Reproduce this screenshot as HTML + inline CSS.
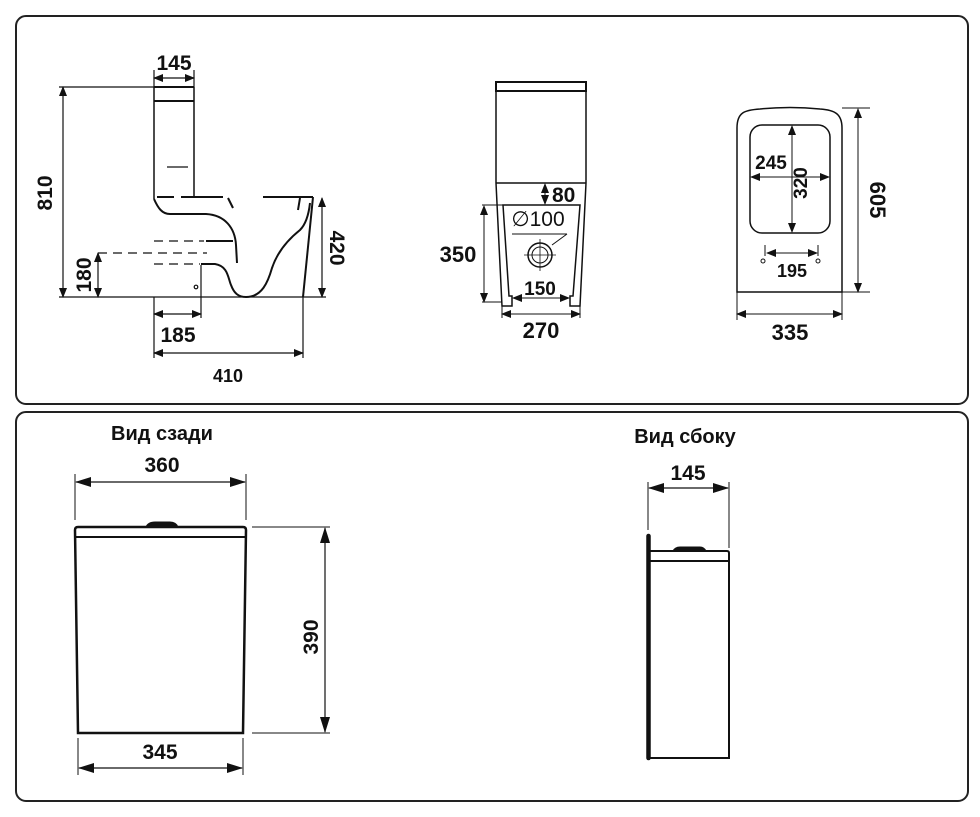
<!DOCTYPE html>
<html><head><meta charset="utf-8"><style>
html,body{margin:0;padding:0;background:#fff}
svg{display:block}
text{font-family:"Liberation Sans",sans-serif;font-weight:bold;fill:#111}
</style></head><body>
<svg width="980" height="817" viewBox="0 0 980 817" xmlns="http://www.w3.org/2000/svg">
<defs>
<marker id="a" markerWidth="10" markerHeight="8" refX="9" refY="4" orient="auto-start-reverse" markerUnits="userSpaceOnUse"><path d="M0,0 L10,4 L0,8 z" fill="#111"/></marker>
<marker id="b" markerWidth="16" markerHeight="10" refX="15" refY="5" orient="auto-start-reverse" markerUnits="userSpaceOnUse"><path d="M0,0 L16,5 L0,10 z" fill="#111"/></marker>
</defs>
<rect x="16" y="16" width="952" height="388" rx="10" fill="none" stroke="#222" stroke-width="2"/>
<rect x="16" y="412" width="952" height="389" rx="10" fill="none" stroke="#222" stroke-width="2"/>

<!-- TOP LEFT side view -->
<g stroke="#111" fill="none" stroke-width="1.2">
<line x1="154" y1="87" x2="194" y2="87" stroke-width="2"/>
<line x1="154" y1="101" x2="194" y2="101" stroke-width="2"/>
<line x1="154" y1="87" x2="154" y2="199" stroke-width="1.5"/>
<line x1="194" y1="87" x2="194" y2="197" stroke-width="1.5"/>
<line x1="167" y1="167" x2="188" y2="167"/>
<line x1="59" y1="87" x2="154" y2="87"/>
<line x1="63" y1="87" x2="63" y2="297" marker-start="url(#a)" marker-end="url(#a)"/>
<line x1="154" y1="78" x2="194" y2="78" marker-start="url(#a)" marker-end="url(#a)"/>
<line x1="154" y1="70" x2="154" y2="87"/><line x1="194" y1="70" x2="194" y2="87"/>
<line x1="59" y1="297" x2="326" y2="297"/>
<line x1="322" y1="198" x2="322" y2="297" marker-start="url(#a)" marker-end="url(#a)"/>
<line x1="98" y1="253" x2="98" y2="297" marker-start="url(#a)" marker-end="url(#a)"/>
<line x1="98" y1="253" x2="207" y2="253" stroke-dasharray="9,6"/>
<line x1="154" y1="241" x2="204" y2="241" stroke-dasharray="9,6"/>
<line x1="154" y1="264" x2="200" y2="264" stroke-dasharray="9,6"/>
<line x1="154" y1="297" x2="154" y2="358"/>
<line x1="303" y1="297" x2="303" y2="358"/>
<line x1="201" y1="265" x2="201" y2="318"/>
<line x1="154" y1="314" x2="201" y2="314" marker-start="url(#a)" marker-end="url(#a)"/>
<line x1="154" y1="353" x2="303" y2="353" marker-start="url(#a)" marker-end="url(#a)"/>
<g stroke-width="2">
<line x1="157" y1="197" x2="174" y2="197"/><line x1="181" y1="197" x2="223" y2="197"/>
<line x1="228" y1="198" x2="233" y2="208"/>
<path d="M154,199 C158,208 162,214 170,214 L206,214 C225,215 235,228 236,245 L237,263"/>
<line x1="206" y1="241" x2="233" y2="241"/>
<path d="M201,264 L215,264 C228,266 228,278 231,285 C234,293 238,297 246,297 C262,297 268,282 272,268 C278,250 290,238 300,230 C307,223 309,212 310,203"/>
<line x1="313" y1="197" x2="303" y2="297"/>
<line x1="263" y1="197" x2="313" y2="197"/>
<line x1="300" y1="198" x2="298" y2="210"/>
</g>
<circle cx="196" cy="287" r="1.8"/>
</g>
<text x="174" y="70" font-size="21" text-anchor="middle">145</text>
<text transform="translate(52,193) rotate(-90)" font-size="21" text-anchor="middle">810</text>
<text transform="translate(91,275) rotate(-90)" font-size="21" text-anchor="middle">180</text>
<text transform="translate(330,248) rotate(90)" font-size="21" text-anchor="middle">420</text>
<text x="178" y="342" font-size="21" text-anchor="middle">185</text>
<text x="228" y="382" font-size="18" text-anchor="middle">410</text>

<!-- TOP MIDDLE front view -->
<g stroke="#111" fill="none" stroke-width="1.5">
<rect x="496" y="82" width="90" height="9" stroke-width="2"/>
<line x1="496" y1="91" x2="496" y2="183"/><line x1="586" y1="91" x2="586" y2="183"/>
<line x1="496" y1="183" x2="586" y2="183"/>
<path d="M496,183 L502,306 L512,306 L512,296 L509,296 L503,205 L580,205 L573,296 L570,296 L570,306 L580,306 L586,183"/>
<line x1="482" y1="205" x2="503" y2="205" stroke-width="1"/>
<line x1="482" y1="302" x2="502" y2="302" stroke-width="1"/>
<line x1="484" y1="206" x2="484" y2="302" stroke-width="1" marker-start="url(#a)" marker-end="url(#a)"/>
<line x1="545" y1="184" x2="545" y2="204" stroke-width="1" marker-start="url(#a)" marker-end="url(#a)"/>
<line x1="513" y1="298" x2="569" y2="298" stroke-width="1" marker-start="url(#a)" marker-end="url(#a)"/>
<line x1="502" y1="306" x2="502" y2="318" stroke-width="1"/><line x1="580" y1="306" x2="580" y2="318" stroke-width="1"/>
<line x1="502" y1="314" x2="580" y2="314" stroke-width="1" marker-start="url(#a)" marker-end="url(#a)"/>
<line x1="512" y1="234" x2="567" y2="234" stroke-width="1"/>
<line x1="567" y1="234" x2="552" y2="245" stroke-width="1"/>
<circle cx="540" cy="255" r="12"/><circle cx="540" cy="255" r="8" stroke-width="1"/>
<line x1="524" y1="255" x2="556" y2="255" stroke-width="0.8"/><line x1="540" y1="239" x2="540" y2="271" stroke-width="0.8"/>
</g>
<text x="552" y="202" font-size="21">80</text>
<text x="538" y="226" font-size="21" text-anchor="middle" style="font-weight:normal">∅100</text>
<text x="458" y="262" font-size="22" text-anchor="middle">350</text>
<text x="540" y="295" font-size="19" text-anchor="middle">150</text>
<text x="541" y="338" font-size="22" text-anchor="middle">270</text>

<!-- TOP RIGHT seat -->
<g stroke="#111" fill="none" stroke-width="1.5">
<path d="M737,292 L737,128 C737,112 745,110 760,109 Q790,106 820,109 C835,110 842,114 842,128 L842,292 Z"/>
<rect x="750" y="125" width="80" height="108" rx="12"/>
<g stroke-width="1">
<line x1="792" y1="126" x2="792" y2="232" marker-start="url(#a)" marker-end="url(#a)"/>
<line x1="751" y1="177" x2="829" y2="177" marker-start="url(#a)" marker-end="url(#a)"/>
<line x1="767" y1="253" x2="817" y2="253" marker-start="url(#a)" marker-end="url(#a)"/>
<line x1="765" y1="245" x2="765" y2="256"/><line x1="818" y1="245" x2="818" y2="256"/>
<circle cx="763" cy="261" r="2"/><circle cx="818" cy="261" r="2"/>
<line x1="842" y1="108" x2="870" y2="108"/><line x1="842" y1="292" x2="870" y2="292"/>
<line x1="858" y1="109" x2="858" y2="292" marker-start="url(#a)" marker-end="url(#a)"/>
<line x1="737" y1="292" x2="737" y2="320"/><line x1="842" y1="292" x2="842" y2="320"/>
<line x1="737" y1="314" x2="842" y2="314" marker-start="url(#a)" marker-end="url(#a)"/>
</g>
</g>
<text x="771" y="169" font-size="19" text-anchor="middle">245</text>
<text transform="translate(807,183) rotate(-90)" font-size="19" text-anchor="middle">320</text>
<text x="792" y="277" font-size="18" text-anchor="middle">195</text>
<text transform="translate(870,200) rotate(90)" font-size="22" text-anchor="middle">605</text>
<text x="790" y="340" font-size="22" text-anchor="middle">335</text>

<!-- BOTTOM LEFT back view -->
<text x="162" y="440" font-size="20" text-anchor="middle">Вид сзади</text>
<g stroke="#111" fill="none">
<line x1="75" y1="474" x2="75" y2="520" stroke-width="1"/><line x1="246" y1="474" x2="246" y2="520" stroke-width="1"/>
<line x1="76" y1="482" x2="245" y2="482" stroke-width="1.2" marker-start="url(#b)" marker-end="url(#b)"/>
<path d="M78,733 L75,530 Q75,527 78,527 L243,527 Q246,527 246,530 L243,733 Z" stroke-width="2.5"/>
<line x1="76" y1="537" x2="245" y2="537" stroke-width="2"/>
<path d="M146,527 Q148,522 155,522 L170,522 Q176,522 178,527 Z" fill="#111"/>
<line x1="252" y1="527" x2="330" y2="527" stroke-width="1"/><line x1="252" y1="733" x2="330" y2="733" stroke-width="1"/>
<line x1="325" y1="528" x2="325" y2="732" stroke-width="1.2" marker-start="url(#b)" marker-end="url(#b)"/>
<line x1="78" y1="738" x2="78" y2="775" stroke-width="1"/><line x1="243" y1="738" x2="243" y2="775" stroke-width="1"/>
<line x1="79" y1="768" x2="242" y2="768" stroke-width="1.2" marker-start="url(#b)" marker-end="url(#b)"/>
</g>
<text x="162" y="472" font-size="21" text-anchor="middle">360</text>
<text transform="translate(318,637) rotate(-90)" font-size="21" text-anchor="middle">390</text>
<text x="160" y="759" font-size="21" text-anchor="middle">345</text>

<!-- BOTTOM RIGHT side view -->
<text x="685" y="443" font-size="20" text-anchor="middle">Вид сбоку</text>
<g stroke="#111" fill="none">
<line x1="648" y1="482" x2="648" y2="530" stroke-width="1"/><line x1="729" y1="482" x2="729" y2="548" stroke-width="1"/>
<line x1="649" y1="488" x2="728" y2="488" stroke-width="1.2" marker-start="url(#b)" marker-end="url(#b)"/>
<line x1="648.5" y1="536" x2="648.5" y2="758" stroke-width="4.5" stroke-linecap="round"/>
<path d="M650,551 L727,551 Q729,551 729,553 L729,758 L650,758" stroke-width="2"/>
<line x1="650" y1="561" x2="729" y2="561" stroke-width="2"/>
<path d="M673,551 Q675,547 680,547 L700,547 Q704,547 706,551 Z" fill="#111"/>
</g>
<text x="688" y="480" font-size="21" text-anchor="middle">145</text>
</svg>
</body></html>
